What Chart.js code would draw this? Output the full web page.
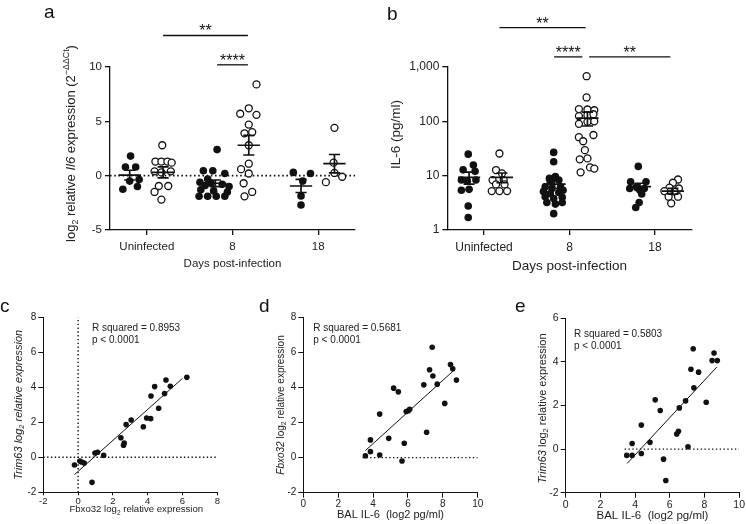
<!DOCTYPE html>
<html>
<head>
<meta charset="utf-8">
<title>IL-6 and atrogene expression</title>
<script src="https://cdn.jsdelivr.net/npm/chart.js@4.4.1/dist/chart.umd.min.js"></script>
<style>
  html, body { margin: 0; padding: 0; background: #fff; }
  #fig { position: relative; width: 746px; height: 524px; overflow: hidden; font-family: 'Liberation Sans', Arial, sans-serif; }
  #fig canvas { position: absolute; }
  .tag { position: absolute; font-size: 19px; line-height: 18px; color: #111; }
</style>
</head>
<body>
<div id="fig">
  <canvas id="panelA" width="373" height="290" style="left:0;top:0"></canvas>
  <canvas id="panelB" width="373" height="290" style="left:373px;top:0"></canvas>
  <canvas id="panelC" width="250" height="229" style="left:0;top:295px"></canvas>
  <canvas id="panelD" width="250" height="229" style="left:250px;top:295px"></canvas>
  <canvas id="panelE" width="246" height="229" style="left:500px;top:295px"></canvas>
  <div class="tag" style="left:44px;top:3px">a</div>
  <div class="tag" style="left:387px;top:5px">b</div>
  <div class="tag" style="left:0px;top:297px">c</div>
  <div class="tag" style="left:259px;top:297px">d</div>
  <div class="tag" style="left:515px;top:297px">e</div>
</div>
<script>
// ---- data ----
const categories = ['Uninfected', '8', '18'];

// a: lung Il6 mRNA, log2 relative expression (filled = mock group, open = infected group)
const il6MrnaFilled = [
  [1.8, 0.8, 0.8, -0.35, -0.5, -1.0, -1.25],
  [2.4, 0.45, 0.45, 0.2, -0.3, -0.6, -0.7, -0.8, -0.9, -1.0, -1.3, -1.4, -1.5, -1.9, -1.9, -1.9, -1.9],
  [0.3, 0.2, -0.5, -1.86, -2.7]
];
const il6MrnaFilledJitter = [
  [0.01, -0.05, 0.07, 0.11, 0.0, 0.09, -0.08],
  [0.02, -0.14, -0.03, 0.11, -0.09, -0.18, -0.05, 0.08, -0.12, 0.16, -0.17, -0.02, 0.14, -0.19, -0.09, 0.01, 0.11],
  [-0.09, 0.11, 0.02, 0.0, 0.0]
];
const il6MrnaOpen = [
  [2.8, 1.3, 1.3, 1.3, 1.2, 0.4, 0.3, 0.4, -0.95, -0.95, -1.5, -2.2],
  [8.4, 6.2, 5.7, 5.6, 4.7, 3.9, 4.0, 2.8, 1.1, 0.6, 0.2, -0.7, -1.5, -1.9],
  [4.4, 1.2, 0.25, -0.6, -0.1]
];
const il6MrnaOpenJitter = [
  [-0.01, -0.09, -0.02, 0.05, 0.10, -0.10, -0.02, 0.09, -0.05, 0.06, -0.10, -0.02],
  [0.09, 0, -0.1, 0.09, 0, -0.05, 0.04, 0, 0, -0.09, 0, -0.06, 0.04, -0.05],
  [0, -0.01, 0, -0.1, 0.09]
];
const il6MrnaFilledMean = [0.05, -0.7, -0.95];
const il6MrnaFilledSem = [0.45, 0.3, 0.6];
const il6MrnaOpenMean = [0.3, 2.8, 1.1];
const il6MrnaOpenSem = [0.5, 0.9, 0.85];

// b: BAL IL-6 protein, pg/ml
const il6ProtFilled = [
  [24.9, 15.7, 12.8, 12.0, 8.3, 8.0, 8.3, 5.4, 5.6, 2.76, 1.7],
  [26.8, 18.0, 9.6, 8.9, 8.3, 7.7, 6.25, 5.8, 6.25, 5.1, 4.7, 4.9, 5.4, 4.1, 3.8, 4.0, 3.2, 3.0, 3.2, 2.0],
  [14.8, 7.7, 7.7, 6.25, 5.8, 5.8, 5.4, 4.6, 3.2, 2.6]
];
const il6ProtFilledJitter = [
  [-0.01, 0.05, -0.07, 0.07, -0.09, -0.02, 0.08, -0.09, 0.0, -0.01, -0.01],
  [-0.01, -0.01, 0.01, -0.06, 0.05, -0.05, -0.11, -0.03, 0.07, -0.13, -0.05, 0.05, 0.10, -0.11, -0.01, 0.09, -0.09, 0.01, 0.09, -0.01],
  [-0.02, -0.11, 0.07, -0.04, -0.12, 0.05, 0, 0.02, -0.01, -0.05]
];
const il6ProtOpen = [
  [25.6, 12.7, 11, 8.3, 8.3, 6.9, 6.9, 5.2, 5.2, 5.2],
  [677, 275, 168, 165, 160, 125, 130, 135, 90, 98, 100, 56, 51, 43, 29.5, 20, 20.8, 11.5, 14.2, 13.5],
  [8.5, 7.4, 6.0, 5.8, 5.2, 5.1, 4.1, 4.1, 3.1]
];
const il6ProtOpenJitter = [
  [-0.03, -0.07, 0, -0.11, 0.02, -0.07, 0.03, -0.12, -0.03, 0.06],
  [-0.01, -0.01, -0.1, 0, 0.08, -0.1, 0, 0.07, -0.1, 0, 0.08, 0.07, -0.1, -0.05, -0.03, -0.09, 0, -0.08, 0.03, 0.08],
  [0.06, 0.0, -0.04, 0.07, -0.1, 0.02, -0.05, 0.06, -0.02]
];
const il6ProtFilledMean = [9.3, 7.0, 6.3];
const il6ProtFilledSem = [2.3, 1.2, 0.95];
const il6ProtOpenMean = [9.3, 115, 5.2];
const il6ProtOpenSem = [1.9, 33, 0.65];
const il6ProtTicks = [1, 10, 100, 1000];

// significance bars: [from, to, height, label]
const il6MrnaSig = [[0.19, 1.18, 12.9, '**'], [0.82, 1.18, 10.2, '****']];
const il6ProtSig = [[0.18, 1.19, 5320, '**'], [0.82, 1.15, 1534, '****'], [1.23, 2.18, 1534, '**']];

// c: Trim63 vs Fbxo32
const fbxo32Expr = [-0.21, 0.1, 0.2, 0.35, 0.8, 0.97, 1.12, 1.47, 2.46, 2.61, 2.65, 2.76, 3.05, 3.75, 3.94, 4.17, 4.19, 4.4, 4.63, 4.97, 5.05, 5.3, 6.25];
const trim63VsFbxo32 = [-0.44, -0.21, -0.27, -0.33, -1.43, 0.25, 0.29, 0.11, 1.12, 0.69, 0.82, 1.87, 2.13, 1.75, 2.25, 2.21, 3.5, 4.04, 2.8, 3.64, 4.42, 4.06, 4.57];
const fitC = { x: [-0.21, 6.0], y: [-0.99, 4.51] };

// d, e: BAL IL-6 (log2 pg/ml) vs Fbxo32 / Trim63
const balIl6 = [3.56, 3.85, 3.85, 4.38, 4.38, 4.9, 5.18, 5.45, 5.66, 5.79, 5.9, 6.02, 6.1, 6.91, 7.07, 7.24, 7.39, 7.43, 7.68, 8.11, 8.44, 8.57, 8.78];
const fbxo32VsIl6 = [0.11, 1.01, 0.34, 2.48, 0.15, 1.1, 3.96, 3.75, -0.19, 0.82, 2.63, 2.67, 2.76, 4.15, 1.45, 5.01, 6.29, 4.65, 4.19, 3.09, 5.31, 5.07, 4.42];
const fitD = { x: [3.56, 8.67], y: [0.4, 5.01] };
const balIl6E = [3.52, 3.83, 3.83, 4.36, 4.36, 4.86, 5.16, 5.45, 5.64, 5.77, 6.4, 6.5, 6.55, 6.91, 7.05, 7.22, 7.35, 7.39, 7.66, 8.1, 8.44, 8.55, 8.74];
const trim63VsIl6 = [-0.29, 0.26, -0.29, 1.1, -0.2, 0.31, 2.26, 1.77, -0.46, -1.44, 0.69, 0.82, 1.89, 2.21, 0.11, 3.66, 4.6, 2.81, 3.53, 2.15, 4.06, 4.41, 4.06];
const fitE = { x: [3.54, 8.72], y: [-0.66, 3.77] };

// ---- drawing ----
const FONT = "'Liberation Sans', Arial, Helvetica, sans-serif";
const INK = '#111';
Chart.defaults.font.family = FONT;
Chart.defaults.color = '#222';
Chart.defaults.animation = false;
Chart.defaults.plugins.legend.display = false;
Chart.defaults.plugins.tooltip.enabled = false;

// text with italic / subscript / superscript runs
function drawRich(ctx, segs, size, cx, cy, rotated) {
  ctx.save();
  ctx.translate(cx, cy);
  if (rotated) ctx.rotate(-Math.PI / 2);
  const fontOf = s => (s.it ? 'italic ' : '') + ((s.sub || s.sup) ? size * 0.68 : size) + 'px ' + FONT;
  let w = 0;
  segs.forEach(s => { ctx.font = fontOf(s); w += ctx.measureText(s.t).width; });
  let x = -w / 2;
  ctx.textAlign = 'left';
  ctx.textBaseline = 'alphabetic';
  ctx.fillStyle = '#222';
  segs.forEach(s => {
    ctx.font = fontOf(s);
    const dy = s.sub ? size * 0.22 : s.sup ? -size * 0.42 : 0;
    ctx.fillText(s.t, x, size * 0.36 + dy);
    x += ctx.measureText(s.t).width;
  });
  ctx.restore();
}

const extras = {
  id: 'extras',
  afterDraw(chart, args, o) {
    const ctx = chart.ctx, xs = chart.scales.x, ys = chart.scales.y, area = chart.chartArea;
    ctx.save();
    (o.sig || []).forEach(([a, b, h, label]) => {
      const x1 = xs.getPixelForValue(a), x2 = xs.getPixelForValue(b), y = ys.getPixelForValue(h);
      ctx.strokeStyle = INK;
      ctx.lineWidth = 1.3;
      ctx.beginPath(); ctx.moveTo(x1, y); ctx.lineTo(x2, y); ctx.stroke();
      ctx.font = '16px ' + FONT;
      ctx.fillStyle = INK;
      ctx.textAlign = 'center';
      ctx.textBaseline = 'alphabetic';
      ctx.fillText(label, (x1 + x2) / 2, y + 1);
    });
    (o.notes || []).forEach(n => {
      ctx.font = n.size + 'px ' + FONT;
      ctx.fillStyle = '#222';
      ctx.textAlign = 'left';
      ctx.textBaseline = 'middle';
      ctx.fillText(n.text, xs.getPixelForValue(n.x), ys.getPixelForValue(n.y));
    });
    if (o.xTitle) drawRich(ctx, o.xTitle.segs, o.xTitle.size, (area.left + area.right) / 2 + (o.xTitle.dx || 0), o.xTitle.y, false);
    if (o.yTitle) drawRich(ctx, o.yTitle.segs, o.yTitle.size, o.yTitle.x, (area.top + area.bottom) / 2 + (o.yTitle.dy || 0), true);
    ctx.restore();
  }
};
Chart.register(extras);

function axis(extra, fontSize, lw, w, h, area, isX) {
  return Object.assign({
    border: { display: true, color: INK, width: lw },
    grid: { display: true, drawOnChartArea: false, drawTicks: true, tickLength: extra.tickLength || 5, tickColor: INK, tickWidth: lw, color: INK, lineWidth: lw },
    ticks: Object.assign({ font: { size: fontSize }, color: '#222', padding: 3, maxRotation: 0, autoSkip: false }, extra.ticks || {}),
    afterFit: s => { if (isX) s.height = h - area.bottom; else s.width = area.left; }
  }, extra.rest || {});
}

function meanSem(centers, means, sems, halfW, capW) {
  const d = [];
  centers.forEach((c, i) => {
    const lo = means[i] - sems[i], hi = means[i] + sems[i];
    d.push({ x: c - halfW, y: means[i] }, { x: c + halfW, y: means[i] }, { x: c, y: null });
    d.push({ x: c, y: lo }, { x: c, y: hi }, { x: c, y: null });
    d.push({ x: c - capW, y: lo }, { x: c + capW, y: lo }, { x: c, y: null });
    d.push({ x: c - capW, y: hi }, { x: c + capW, y: hi }, { x: c, y: null });
  });
  return d;
}

const X_MIN = -0.43, X_MAX = 2.43;

function dotPlot(id, p) {
  const el = document.getElementById(id);
  const w = el.width, h = el.height, area = p.area;
  const filledPts = [], openPts = [];
  categories.forEach((c, i) => {
    p.filled[i].forEach((v, j) => filledPts.push({ x: i + p.fOff + p.fJit[i][j], y: v }));
    p.open[i].forEach((v, j) => openPts.push({ x: i + p.oOff + p.oJit[i][j], y: v }));
  });
  const datasets = [
    { data: filledPts, pointRadius: 3.8, pointBackgroundColor: INK, pointBorderColor: INK, pointBorderWidth: 0, order: 2 },
    { data: openPts, pointRadius: 3.5, pointBackgroundColor: '#fff', pointBorderColor: INK, pointBorderWidth: 1.3, order: 2 },
    { data: meanSem(categories.map((c, i) => i + p.fOff), p.fMean, p.fSem, 0.13, 0.065), showLine: true, spanGaps: false, pointRadius: 0, borderColor: INK, borderWidth: 1.7, order: 1 },
    { data: meanSem(categories.map((c, i) => i + p.oOff), p.oMean, p.oSem, 0.13, 0.065), showLine: true, spanGaps: false, pointRadius: 0, borderColor: INK, borderWidth: 1.7, order: 1 }
  ];
  if (p.refY !== undefined) {
    datasets.push({ data: [{ x: X_MIN, y: p.refY }, { x: X_MAX, y: p.refY }], showLine: true, pointRadius: 0, borderColor: INK, borderWidth: 1.8, borderDash: [1.6, 2.6], order: 3 });
  }
  new Chart(el, {
    type: 'scatter',
    data: { datasets },
    options: {
      responsive: false,
      layout: { padding: { left: 0, top: area.top, right: w - area.right, bottom: 0 } },
      scales: {
        x: axis({
          ticks: { callback: v => categories[Math.round(v)], font: { size: p.tickSize }, padding: 5 },
          rest: { type: 'linear', min: X_MIN, max: X_MAX, afterBuildTicks: s => { s.ticks = categories.map((c, i) => ({ value: i })); } }
        }, p.tickSize, 1.3, w, h, area, true),
        y: axis({ ticks: p.yTicks || {}, rest: p.yRest }, p.tickSize, 1.3, w, h, area, false)
      },
      plugins: { extras: { sig: p.sig, xTitle: p.xTitle, yTitle: p.yTitle } }
    }
  });
}

function corrPlot(id, p) {
  const el = document.getElementById(id);
  const w = el.width, h = el.height, area = p.area;
  const datasets = [
    { data: p.xs.map((x, i) => ({ x, y: p.ys[i] })), pointRadius: 2.8, pointBackgroundColor: INK, pointBorderWidth: 0, order: 1 },
    { data: [{ x: p.fit.x[0], y: p.fit.y[0] }, { x: p.fit.x[1], y: p.fit.y[1] }], showLine: true, pointRadius: 0, borderColor: INK, borderWidth: 1, order: 2 }
  ];
  p.refs.forEach(r => datasets.push({ data: r, showLine: true, pointRadius: 0, borderColor: INK, borderWidth: 1.4, borderDash: [1.4, 2.4], order: 3 }));
  new Chart(el, {
    type: 'scatter',
    data: { datasets },
    options: {
      responsive: false,
      layout: { padding: { left: 0, top: area.top, right: w - area.right, bottom: 0 } },
      scales: {
        x: axis({ tickLength: p.xTickLen, rest: { type: 'linear', min: p.xRange[0], max: p.xRange[1] }, ticks: { stepSize: 2, padding: p.xTickPad, font: { size: p.xTickSize || p.tickSize } } }, p.tickSize, 1, w, h, area, true),
        y: axis({ rest: { type: 'linear', min: p.yRange[0], max: p.yRange[1] }, ticks: { stepSize: 2, padding: 2 } }, p.tickSize, 1, w, h, area, false)
      },
      plugins: { extras: { notes: p.notes, xTitle: p.xTitle, yTitle: p.yTitle } }
    }
  });
}

dotPlot('panelA', {
  area: { left: 110, top: 67, right: 355, bottom: 230 },
  filled: il6MrnaFilled, fJit: il6MrnaFilledJitter, fOff: -0.2, fMean: il6MrnaFilledMean, fSem: il6MrnaFilledSem,
  open: il6MrnaOpen, oJit: il6MrnaOpenJitter, oOff: 0.19, oMean: il6MrnaOpenMean, oSem: il6MrnaOpenSem,
  refY: 0,
  tickSize: 11.5,
  yTicks: { stepSize: 5 },
  yRest: { type: 'linear', min: -5, max: 10 },
  sig: il6MrnaSig,
  xTitle: { segs: [{ t: 'Days post-infection' }], size: 11.5, y: 263 },
  yTitle: { segs: [{ t: 'log' }, { t: '2', sub: true }, { t: ' relative ' }, { t: 'Il6', it: true }, { t: ' expression (2' }, { t: '\u2212\u0394\u0394Ct', sup: true }, { t: ')' }], size: 13, x: 70, dy: -5 }
});

dotPlot('panelB', {
  area: { left: 74.3, top: 67, right: 318.7, bottom: 230 },
  filled: il6ProtFilled, fJit: il6ProtFilledJitter, fOff: -0.175, fMean: il6ProtFilledMean, fSem: il6ProtFilledSem,
  open: il6ProtOpen, oJit: il6ProtOpenJitter, oOff: 0.21, oMean: il6ProtOpenMean, oSem: il6ProtOpenSem,
  tickSize: 12,
  yTicks: { callback: v => v.toLocaleString('en-US') },
  yRest: { type: 'logarithmic', min: 1, max: 1000, afterBuildTicks: s => { s.ticks = il6ProtTicks.map(v => ({ value: v })); } },
  sig: il6ProtSig,
  xTitle: { segs: [{ t: 'Days post-infection' }], size: 13.5, y: 265 },
  yTitle: { segs: [{ t: 'IL-6 (pg/ml)' }], size: 13.5, x: 22, dy: -14 }
});

corrPlot('panelC', {
  area: { left: 43.3, top: 22.3, right: 217.3, bottom: 197.3 },
  xs: fbxo32Expr, ys: trim63VsFbxo32, fit: fitC,
  xRange: [-2, 8], yRange: [-2, 8], tickSize: 10, xTickSize: 9.5, xTickLen: 3, xTickPad: 0,
  refs: [[{ x: -2, y: 0 }, { x: 8, y: 0 }], [{ x: 0, y: -2 }, { x: 0, y: 8 }]],
  notes: [{ text: 'R squared = 0.8953', x: 0.8, y: 7.35, size: 10 }, { text: 'p < 0.0001', x: 0.8, y: 6.67, size: 10 }],
  xTitle: { segs: [{ t: 'Fbxo32 log' }, { t: '2', sub: true }, { t: ' relative expression' }], size: 9.6, y: 214, dx: 6 },
  yTitle: { segs: [{ t: 'Trim63', it: true }, { t: ' log', it: true }, { t: '2', sub: true, it: true }, { t: ' relative expression', it: true }], size: 11, x: 18 }
});

corrPlot('panelD', {
  area: { left: 53.3, top: 22.3, right: 227.7, bottom: 197.7 },
  xs: balIl6, ys: fbxo32VsIl6, fit: fitD,
  xRange: [0, 10], yRange: [-2, 8], tickSize: 10, xTickLen: 5, xTickPad: 1,
  refs: [[{ x: 3.4, y: 0 }, { x: 10, y: 0 }]],
  notes: [{ text: 'R squared = 0.5681', x: 0.57, y: 7.39, size: 10 }, { text: 'p < 0.0001', x: 0.57, y: 6.7, size: 10 }],
  xTitle: { segs: [{ t: 'BAL IL-6  (log2 pg/ml)' }], size: 11, y: 219 },
  yTitle: { segs: [{ t: 'Fbxo32', it: true }, { t: ' log' }, { t: '2', sub: true }, { t: ' relative expression' }], size: 10, x: 30 }
});

corrPlot('panelE', {
  area: { left: 65.7, top: 23.3, right: 240, bottom: 197.7 },
  xs: balIl6E, ys: trim63VsIl6, fit: fitE,
  xRange: [0, 10], yRange: [-2, 6], tickSize: 10.5, xTickLen: 5, xTickPad: 1,
  refs: [[{ x: 3.4, y: 0 }, { x: 10, y: 0 }]],
  notes: [{ text: 'R squared = 0.5803', x: 0.48, y: 5.27, size: 10 }, { text: 'p < 0.0001', x: 0.48, y: 4.72, size: 10 }],
  xTitle: { segs: [{ t: 'BAL IL-6  (log2 pg/ml)' }], size: 11.5, y: 220 },
  yTitle: { segs: [{ t: 'Trim63', it: true }, { t: ' log' }, { t: '2', sub: true }, { t: ' relative expression' }], size: 11, x: 41.7, dy: 3 }
});
</script>
</body>
</html>
